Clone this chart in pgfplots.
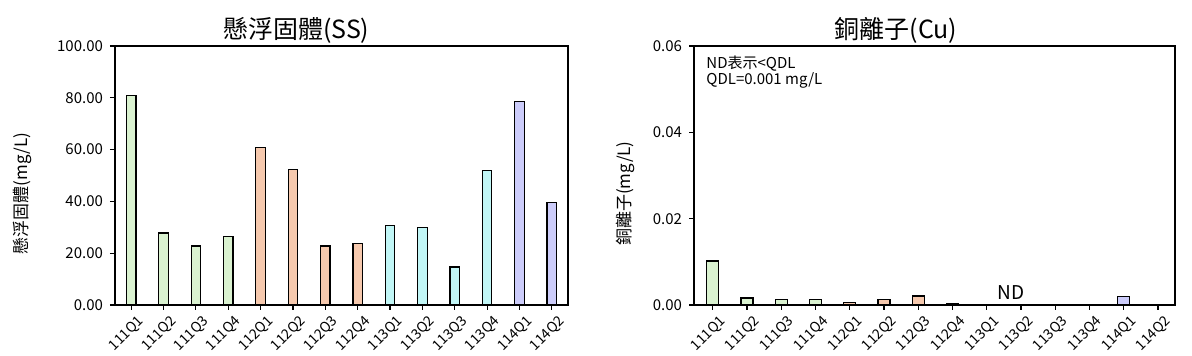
\documentclass[border=0pt]{standalone}
\usepackage{pgfplots}
\pgfplotsset{compat=1.18}
\usepackage{fontspec}
\setmainfont{Noto Sans CJK TC}
\definecolor{cg}{HTML}{DAF2D0}
\definecolor{co}{HTML}{F6C9AE}
\definecolor{cc}{HTML}{C1F6F6}
\definecolor{cl}{HTML}{CCCCFA}
\begin{document}
\begin{tikzpicture}
\useasboundingbox (0,0) rectangle (596pt,178pt);
\pgfplotsset{
  common/.style={
    scale only axis,
    height=129.5pt,
    ybar, bar shift=0pt,
    xtick={0,...,13},
    xticklabels={111Q1,111Q2,111Q3,111Q4,112Q1,112Q2,112Q3,112Q4,113Q1,113Q2,113Q3,113Q4,114Q1,114Q2},
    xmax=13.5,
    ymin=0,
    tick align=outside,
    major tick length=2.5pt,
    xtick pos=bottom, ytick pos=left,
    axis line style={line width=0.6pt},
    every tick/.style={black, line width=0.6pt},
    yticklabel style={font=\fontsize{7.5}{8}\selectfont},
    /pgf/number format/assume math mode=true,
    yticklabel style={/pgf/number format/fixed,/pgf/number format/zerofill,/pgf/number format/precision=2},
    xticklabel style={font=\fontsize{7}{7}\selectfont, rotate=45, anchor=north east, xshift=4pt, yshift=0pt},
    title style={font=\fontsize{12.5}{14}\selectfont, anchor=center},
    ylabel style={font=\fontsize{8.5}{10}\selectfont, anchor=center, rotate=0},
    every axis plot/.append style={draw=black, line width=0.6pt},
  }
}
\begin{axis}[common,
  at={(57.5pt,25.5pt)}, width=226.5pt,
  xmin=-0.5, ymax=100, ytick={0,20,...,100},
  bar width=4.75pt,
  title={懸浮固體(SS)},
  title style={at={(axis description cs:0.40,1)}, yshift=2pt},
  ylabel={懸浮固體(mg/L)},
  ylabel style={at={(axis description cs:-0.205,0.43)}},
]
\addplot[fill=cg] coordinates {(0,80.8) (1,27.8) (2,22.8) (3,26.3)};
\addplot[fill=co] coordinates {(4,60.8) (5,52.3) (6,22.8) (7,23.6)};
\addplot[fill=cc] coordinates {(8,30.6) (9,29.8) (10,14.7) (11,51.9)};
\addplot[fill=cl] coordinates {(12,78.5) (13,39.5)};
\end{axis}
\begin{axis}[common,
  at={(347pt,25.5pt)}, width=240.5pt,
  xmin=-0.55, ymax=0.06, ytick={0,0.02,0.04,0.06},
  bar width=6pt,
  title={銅離子(Cu)},
  title style={at={(axis description cs:0.42,1)}, yshift=2pt},
  ylabel={銅離子(mg/L)},
  ylabel style={at={(axis description cs:-0.143,0.43)}},
  scaled y ticks=false,
]
\addplot[fill=cg] coordinates {(0,0.0102) (1,0.0016) (2,0.0013) (3,0.0013)};
\addplot[fill=co] coordinates {(4,0.0006) (5,0.0013) (6,0.0021) (7,0.0004)};
\addplot[fill=cc] coordinates {(11,0.0002)};
\addplot[fill=cl] coordinates {(12,0.0019)};
\node[font=\fontsize{9.5}{11}\selectfont, anchor=south] at (axis cs:8.7,0) [yshift=-1pt] {ND};
\node[font=\fontsize{7.5}{8.3}\selectfont, anchor=north west, align=left, inner sep=0pt] at (axis description cs:0.025,0.965) {ND表示<QDL\\QDL=0.001 mg/L};
\end{axis}
\end{tikzpicture}
\end{document}
